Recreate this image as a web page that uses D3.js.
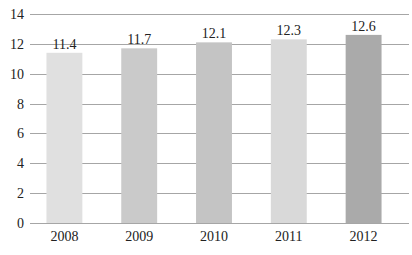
<!DOCTYPE html>
<html>
<head>
<meta charset="utf-8">
<script src="https://cdn.jsdelivr.net/npm/d3@7"></script>
<style>
  body { margin: 0; background: #fff; }
  svg text { font-family: "Liberation Serif", "DejaVu Serif", serif; fill: #222; }
</style>
</head>
<body>
<div id="chart"></div>
<script>
var years = ["2008", "2009", "2010", "2011", "2012"];
var values = [11.4, 11.7, 12.1, 12.3, 12.6];
var barColors = ["#e0e0e0", "#cacaca", "#c4c4c4", "#d9d9d9", "#aaaaaa"];
var yTicks = [0, 2, 4, 6, 8, 10, 12, 14];

var w = 412, h = 255;
var svg = d3.select("#chart").append("svg")
    .attr("width", w)
    .attr("height", h);

var x = d3.scaleBand().domain(years).range([27, 401])
    .paddingInner(0.52).paddingOuter(0.26);
var y = d3.scaleLinear().domain([0, 14]).range([223, 14]);

// grid lines
svg.append("g").selectAll("line")
    .data(yTicks).enter()
    .append("line")
    .attr("x1", 30).attr("x2", 409)
    .attr("y1", function(d) { return Math.round(y(d)) + 0.5; })
    .attr("y2", function(d) { return Math.round(y(d)) + 0.5; })
    .attr("stroke", "#a6a6a6")
    .attr("stroke-width", 1);

// y tick labels
svg.append("g").selectAll("text")
    .data(yTicks).enter()
    .append("text")
    .attr("x", 24)
    .attr("y", function(d) { return y(d) + 5; })
    .attr("text-anchor", "end")
    .style("font-size", "14px")
    .text(function(d) { return d; });

// bars
svg.append("g").selectAll("rect")
    .data(values).enter()
    .append("rect")
    .attr("x", function(d, i) { return x(years[i]); })
    .attr("y", function(d) { return y(d); })
    .attr("width", x.bandwidth())
    .attr("height", function(d) { return y(0) - y(d); })
    .attr("fill", function(d, i) { return barColors[i]; });

// value labels
svg.append("g").selectAll("text")
    .data(values).enter()
    .append("text")
    .attr("x", function(d, i) { return x(years[i]) + x.bandwidth() / 2; })
    .attr("y", function(d) { return y(d) - 4; })
    .attr("text-anchor", "middle")
    .style("font-size", "14px")
    .text(function(d) { return d.toFixed(1); });

// x axis labels
svg.append("g").selectAll("text")
    .data(years).enter()
    .append("text")
    .attr("x", function(d) { return x(d) + x.bandwidth() / 2; })
    .attr("y", 241)
    .attr("text-anchor", "middle")
    .style("font-size", "14px")
    .text(function(d) { return d; });
</script>
</body>
</html>
